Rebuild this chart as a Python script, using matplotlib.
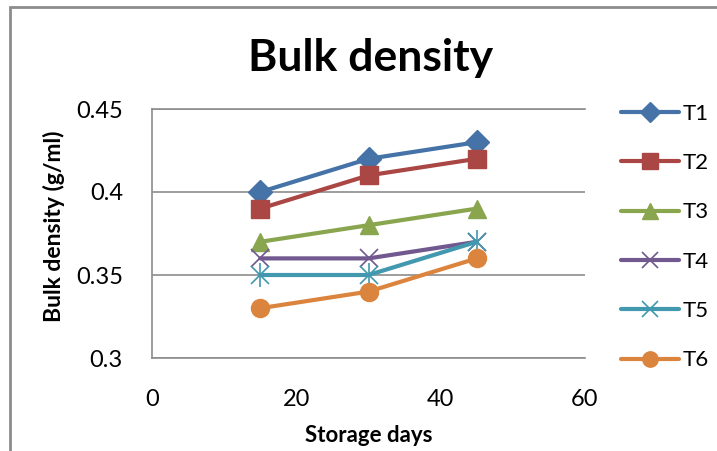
import matplotlib

matplotlib.use("Agg")
import matplotlib.pyplot as plt
from matplotlib.patches import Rectangle

# Bulk density (g/ml) of six treatments over storage time
days = [15, 30, 45]
series = ["T1", "T2", "T3", "T4", "T5", "T6"]
t1 = [0.40, 0.42, 0.43]
t2 = [0.39, 0.41, 0.42]
t3 = [0.37, 0.38, 0.39]
t4 = [0.36, 0.36, 0.37]
t5 = [0.35, 0.35, 0.37]
t6 = [0.33, 0.34, 0.36]
x_ticks = [0, 20, 40, 60]
y_ticks = [0.30, 0.35, 0.40, 0.45]
y_tick_labels = ["0.3", "0.35", "0.4", "0.45"]

colors = ["#4572A7", "#AA4643", "#89A54E", "#71588F", "#4198AF", "#DB843D"]
markers = ["D", "s", "^", "x", "*", "o"]
sizes = {"D": 12, "s": 13, "^": 13, "x": 13, "*": 13, "o": 13}

plt.rcParams["font.family"] = ["Lato", "DejaVu Sans"]
W, H = 717, 451
fig = plt.figure(figsize=(W / 100, H / 100), dpi=100)

# chart area border (only left/top edges fall inside the image)
fig.patches.append(Rectangle((10 / W, -0.1), 1.2, (H - 7) / H + 0.1,
                             transform=fig.transFigure, fill=False,
                             edgecolor="#8c8c8c", lw=2))

ax = fig.add_axes([152 / W, 1 - 358 / H, (585 - 152) / W, (358 - 109) / H])
for vals, name, c, m in zip([t1, t2, t3, t4, t5, t6], series, colors, markers):
    star = m == "*"
    thin = m in "x*"
    ax.plot(days, vals, color=c, lw=3, marker="x" if star else m,
            ms=sizes[m], mew=1.2 if thin else 1, mec=c, mfc=c,
            label=name, solid_capstyle="round")
    if star:
        # asterisk = x plus a vertical stroke
        ax.plot(days, vals, ls="none", marker="|", ms=sizes[m] * 1.3,
                mew=1.2, color=c)

ax.set_xlim(0, 60)
ax.set_ylim(0.30, 0.45)
ax.set_xticks(x_ticks)
ax.set_yticks(y_ticks, y_tick_labels)
ax.tick_params(length=0, labelsize=17)
ax.tick_params(axis="y", pad=21)
ax.tick_params(axis="x", pad=22)
ax.grid(axis="y", color="#8c8c8c", lw=1.2)
ax.set_axisbelow(True)
ax.spines["right"].set_visible(False)
for s in ["left", "top", "bottom"]:
    ax.spines[s].set_color("#8c8c8c")
    ax.spines[s].set_linewidth(1.2)

fig.text(371 / W, 1 - 58 / H, "Bulk density", ha="center", va="center",
         fontsize=32, fontweight="bold")
fig.text(369 / W, 1 - 435 / H, "Storage days", ha="center", va="center",
         fontsize=16, fontweight="bold")
fig.text(54 / W, 1 - 226 / H, "Bulk density (g/ml)", ha="center", va="center",
         rotation=90, fontsize=16.5, fontweight="bold")

ax.legend(loc="upper left", bbox_to_anchor=(1.062, 1.057), frameon=False,
          fontsize=16, handlelength=2.6, labelspacing=1.32,
          handletextpad=0.2, borderaxespad=0.0, markerscale=0.85)

fig.savefig("out.png", dpi=100)
